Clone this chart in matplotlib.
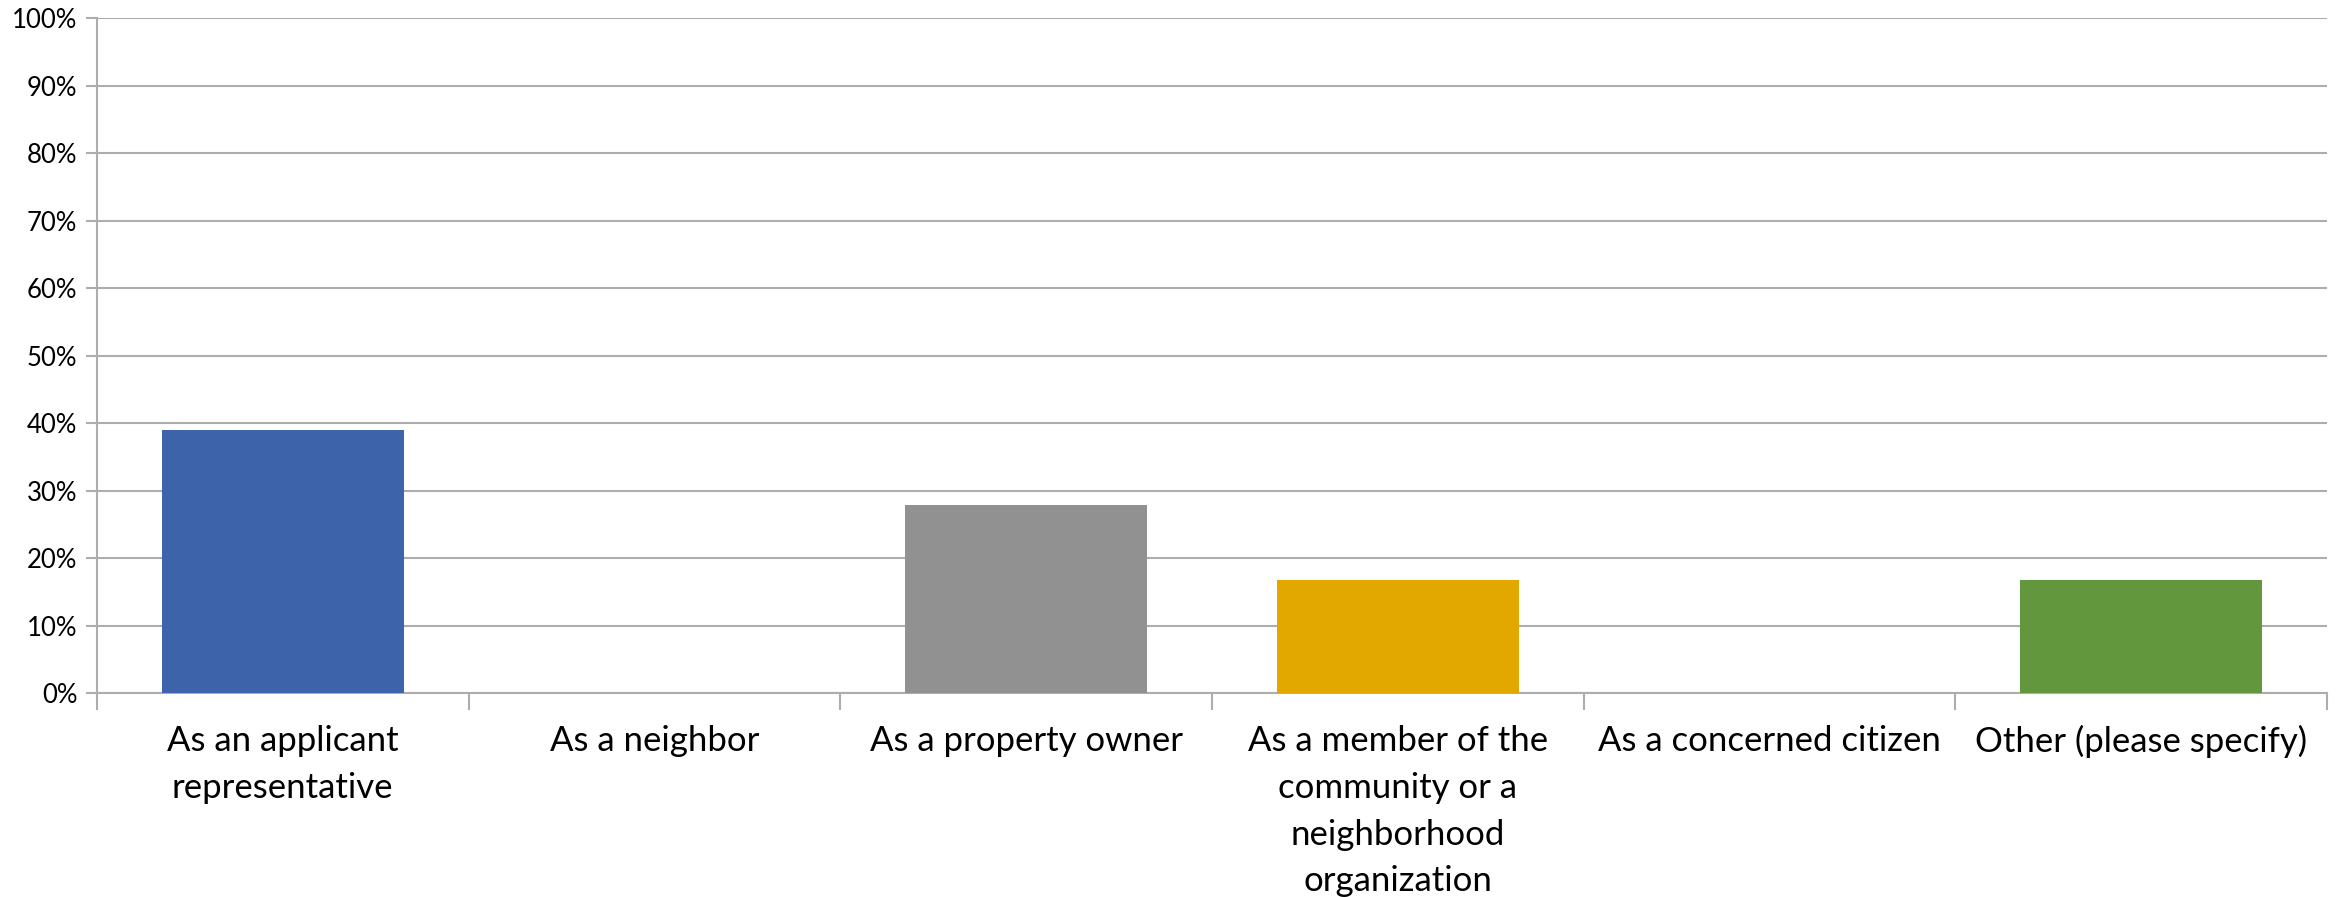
import numpy as np
import matplotlib
matplotlib.use("Agg")
import matplotlib.pyplot as plt
from matplotlib.ticker import PercentFormatter

# survey answers, share of respondents
categories = [
    "As an applicant\nrepresentative",
    "As a neighbor",
    "As a property owner",
    "As a member of the\ncommunity or a\nneighborhood\norganization",
    "As a concerned citizen",
    "Other (please specify)",
]
shares = [38.9, 0.0, 27.8, 16.7, 0.0, 16.7]
colors = ["#3D64AA", "#5A8FD0", "#919191", "#E2A800", "#4F79C4", "#62973E"]
y_ticks = list(range(0, 101, 10))

plt.rcParams['font.family'] = ['Lato', 'DejaVu Sans']
grid_color = "#ADADAD"

fig = plt.figure(figsize=(23.46, 8.97), dpi=100)
ax = fig.add_axes([0.0413, 0.2274, 0.9506, 0.7525])

x = np.arange(len(categories))
ax.bar(x, shares, width=0.65, color=colors, zorder=3)

ax.set_xlim(-0.5, len(categories) - 0.5)
ax.set_ylim(0, 100)
ax.set_yticks(y_ticks)
ax.yaxis.set_major_formatter(PercentFormatter(decimals=0))
ax.yaxis.grid(True, color=grid_color, linewidth=1.5, zorder=0)

# labels at centres, tick marks at category boundaries
ax.set_xticks(x)
ax.set_xticklabels(categories, fontsize=25, linespacing=1.57)
ax.set_xticks(np.arange(len(categories) + 1) - 0.5, minor=True)
ax.tick_params(axis='x', which='major', length=0, pad=23)
ax.tick_params(axis='x', which='minor', length=12, width=1.5, color=grid_color)
ax.tick_params(axis='y', length=8, width=1.5, color=grid_color, labelsize=18.5, pad=6)

for side in ['top', 'right']:
    ax.spines[side].set_visible(False)
for side in ['left', 'bottom']:
    ax.spines[side].set_color(grid_color)
    ax.spines[side].set_linewidth(1.5)

fig.savefig("out.png", dpi=100)
